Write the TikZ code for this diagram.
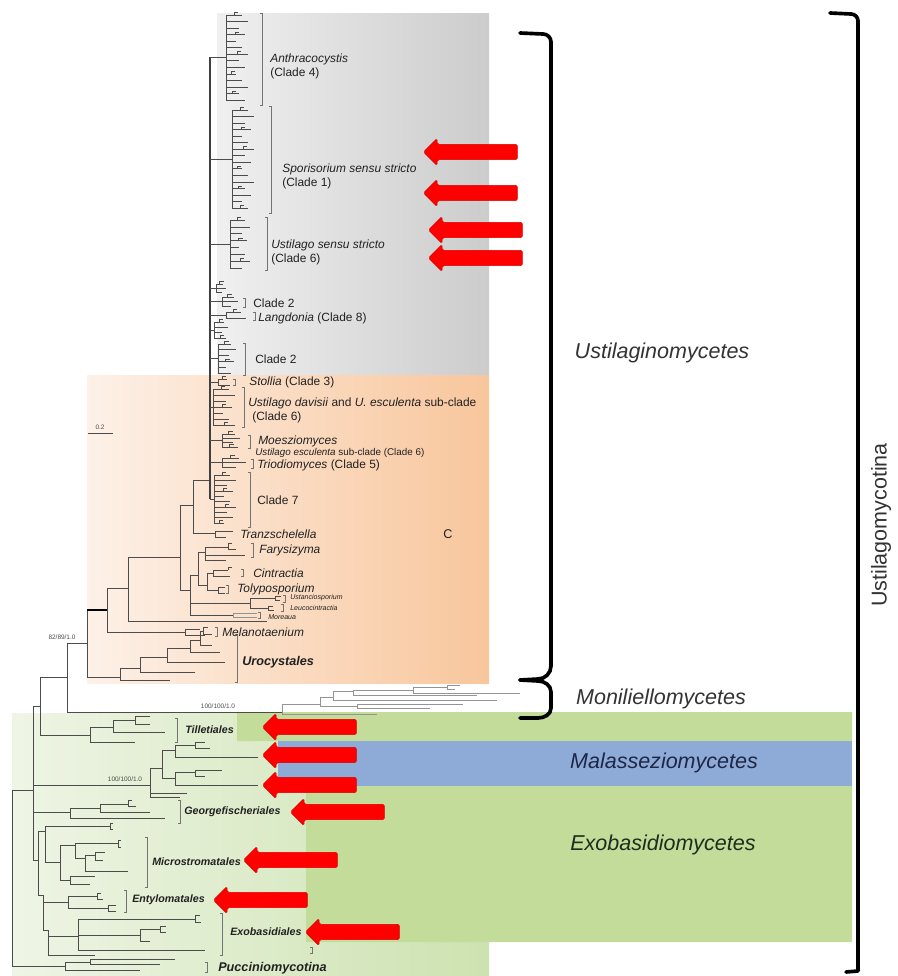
\documentclass[tikz,border=0pt]{standalone}
\usepackage{fontspec}
\setmainfont{Liberation Sans}
\usetikzlibrary{shapes.arrows}
\definecolor{treegrey}{gray}{0.3}
\definecolor{leafgrey}{gray}{0.58}
\definecolor{ustL}{gray}{0.94}
\definecolor{ustR}{gray}{0.80}
\definecolor{uroL}{HTML}{FDF1E8}
\definecolor{uroR}{HTML}{F8C69C}
\definecolor{exoL}{HTML}{EEF5E5}
\definecolor{exoR}{HTML}{CDE2B0}
\definecolor{exogreen}{HTML}{C3DC9A}
\definecolor{malblue}{HTML}{8EAAD7}
\definecolor{ink}{gray}{0.13}
\tikzset{
  br/.style={draw=treegrey,line width=.45pt},
  brl/.style={draw=leafgrey,line width=.45pt},
  backbone/.style={draw=black!75,line width=1pt},
  lbrk/.style={draw=black!55,line width=.5pt},
  bigbr/.style={draw=black,line width=2.6pt,line cap=round,line join=round},
  redarr/.style={single arrow,fill=red,draw=red!85!black,line width=.4pt,
                 shape border rotate=180,minimum height=23.5mm,rounded corners=1.2pt,
                 inner xsep=0pt,inner ysep=1.85mm,
                 single arrow head extend=1.5mm,single arrow tip angle=90,anchor=tip},
  lab/.style={font=\fontsize{8.5}{10}\selectfont,text=ink,anchor=west,inner sep=0pt},
  sublab/.style={lab,font=\fontsize{7}{8}\selectfont},
  tinylab/.style={lab,font=\fontsize{5}{6}\selectfont\itshape},
  ordlab/.style={lab,font=\fontsize{7.6}{9}\selectfont\bfseries\itshape},
  bigord/.style={lab,font=\fontsize{9}{10}\selectfont\bfseries\itshape},
  classlab/.style={font=\fontsize{15.3}{17}\selectfont\itshape,inner sep=0pt},
  support/.style={font=\fontsize{4.6}{5}\selectfont,text=black!70,inner sep=0pt},
}
% comb of leaves hanging off the backbone
\newcommand{\clade}[6]{%
  \pgfmathsetmacro\cmid{(#3+#4)/2}
  \draw[br] (#1,\cmid) -- (#2,\cmid) (#2,#3) -- (#2,#4);
  \foreach \k in {1,...,#5}{
    \pgfmathsetmacro\lfy{#3+(\k-1)*(#4-#3)/(#5-1)}
    \pgfmathsetmacro\lfl{#6*(0.45+0.55*mod(\k*7,5)/4)}
    \pgfmathtruncatemacro\tw{mod(\k,3)}
    \draw[br] (#2,\lfy) -- ++(\lfl,0);
    \ifnum\tw=1 \draw[br] (#2+0.5*\lfl,\lfy) -- ++(0,-2.5) -- ++(4,0); \fi
  }
}
\newcommand{\cladebar}[3]{\draw[lbrk] (#1-2,#2) -- (#1,#2) -- (#1,#3) -- (#1-2,#3);}

\begin{document}
\begin{tikzpicture}[x=0.25mm,y=-0.25mm]
\useasboundingbox (0,0) rectangle (898,976);

% shaded groups
\shade[left color=ustL,right color=ustR] (217,13) rectangle (489,375);
\shade[left color=uroL,right color=uroR] (87,375) rectangle (489,683);
\shade[left color=exoL,right color=exoR] (12,713) rectangle (489,976);
\fill[exogreen] (237,712) -- (852,712) -- (852,942) -- (306,942) -- (306,786)
  -- (278,786) -- (278,741) -- (237,741) -- cycle;
\fill[malblue] (278,741) rectangle (852,786);

% tree
\foreach \px/\py/\cx/\cy in {
  12/880/33/790, 12/880/65/966, 65/966/90/962, 65/966/140/970, 90/962/175/959, 90/962/160/964,
  33/790/40/706, 33/790/150/785, 33/790/70/812, 33/790/38/860,
  40/706/67/677, 40/706/90/735,
  90/735/113/727, 90/735/135/742, 113/727/135/720, 113/727/165/732, 135/720/150/716, 135/720/150/724,
  150/785/162/768, 150/785/187/793, 150/785/180/797, 162/768/175/750, 162/768/175/778,
  175/750/195/745, 175/750/258/757, 195/745/205/742, 195/745/210/748,
  175/778/195/772, 175/778/258/785, 195/772/222/770, 195/772/205/776,
  70/812/100/808, 70/812/165/818, 100/808/128/804, 100/808/150/812, 128/804/132/800, 128/804/136/806,
  38/860/45/831, 38/860/43/895, 45/831/110/826, 45/831/60/862, 110/826/113/823, 110/826/113/829,
  60/862/75/845, 60/862/70/880, 75/845/118/843, 75/845/85/858, 118/843/121/840, 118/843/121/847,
  85/858/95/855, 85/858/128/871, 95/855/105/852, 95/855/103/860, 70/880/95/876, 70/880/90/884,
  43/895/68/902, 43/895/48/930, 68/902/97/896, 68/902/108/908, 97/896/101/893, 97/896/103/899,
  108/908/116/905, 108/908/116/911,
  48/930/78/936, 48/930/95/955, 78/936/195/919, 78/936/140/935, 78/936/205/950,
  195/919/200/915, 195/919/201/922, 140/935/160/929, 140/935/150/941, 160/929/166/926, 160/929/166/932,
  67/677/87/643, 67/677/282/712,
  87/643/107/610, 87/643/120/677, 120/677/140/668, 120/677/170/680, 140/668/167/657, 140/668/195/672,
  167/657/190/648, 167/657/225/662, 190/648/200/640, 190/648/220/652, 200/640/203/631, 200/640/212/645,
  203/631/208/627, 203/631/212/634,
  107/610/128/588, 107/610/185/632, 185/632/200/629, 185/632/205/635,
  128/588/180/557, 128/588/267/621, 180/557/193/505, 180/557/190/590,
  193/505/210/480, 193/505/215/533, 215/533/233/531, 215/533/226/537,
  190/590/198/575, 190/590/233/615, 190/590/250/603, 198/575/205/552, 198/575/207/585,
  205/552/228/547, 205/552/245/555, 205/552/226/560, 228/547/232/543, 228/547/236/549,
  207/585/213/573, 207/585/218/590, 213/573/228/570, 213/573/230/576, 228/570/232/567,
  218/590/225/587, 218/590/225/593, 250/603/275/598, 250/603/268/608, 275/598/281/596,
  275/598/280/600, 268/608/273/606, 268/608/274/610}
  \draw[br] (\px,\py) |- (\cx,\cy);
\foreach \px/\py/\cx/\cy in {
  282/712/320/704, 282/712/377/714, 320/704/333/697, 320/704/357/706, 333/697/353/691,
  333/697/497/700, 353/691/413/690, 353/691/477/695, 413/690/447/687, 413/690/520/693,
  447/687/460/685, 447/687/455/689, 357/706/463/704, 357/706/430/708,
  233/615/257/613, 233/615/257/617}
  \draw[brl] (\px,\py) |- (\cx,\cy);
\draw[draw=black,line width=1.6pt] (87,610) -- (107,610);
\draw[backbone] (210,57) -- (210,499);

\clade{210}{226}{15}{100}{14}{22}
\clade{210}{232}{110}{208}{16}{22}
\clade{210}{230}{220}{268}{8}{20}
\clade{210}{216}{284}{292}{3}{10}
\clade{210}{222}{297}{306}{3}{16}
\clade{210}{226}{312}{318}{2}{20}
\clade{210}{214}{322}{338}{4}{14}
\clade{210}{218}{344}{373}{6}{18}
\clade{210}{218}{379}{385}{2}{12}
\clade{210}{213}{389}{425}{7}{22}
\clade{210}{222}{434}{447}{4}{18}
\clade{210}{222}{458}{467}{3}{24}
\clade{210}{214}{475}{523}{10}{22}

% clade bars
\cladebar{262}{13}{105}
\cladebar{271}{106}{213}
\cladebar{267}{217}{270}
\cladebar{245}{298}{307}
\cladebar{255}{312}{320}
\cladebar{245}{343}{375}
\cladebar{235}{379}{385}
\cladebar{244}{387}{427}
\cladebar{250}{435}{448}
\cladebar{253}{459}{468}
\cladebar{250}{472}{527}
\cladebar{253}{543}{557}
\cladebar{243}{569}{576}
\cladebar{228}{585}{593}
\cladebar{285}{595}{602}
\cladebar{283}{604}{611}
\cladebar{260}{612}{618}
\cladebar{217}{627}{636}
\cladebar{237}{634}{682}
\cladebar{177}{718}{742}
\cladebar{180}{800}{823}
\cladebar{147}{837}{887}
\cladebar{126}{890}{912}
\cladebar{222}{913}{955}
\cladebar{312}{947}{953}
\cladebar{207}{962}{972}

% labels
\node[lab,align=left] (anthra) at (270,66) {\textit{Anthracocystis}\\(Clade 4)};
\node[lab,align=left] (spori) at (282,176) {\textit{Sporisorium sensu stricto}\\(Clade 1)};
\node[lab,align=left] (ustss) at (271,252) {\textit{Ustilago sensu stricto}\\(Clade 6)};
\node[lab] (cl2a) at (253,303) {Clade 2};
\node[lab] (langd) at (258,318) {\textit{Langdonia} (Clade 8)};
\node[lab] (cl2b) at (255,359) {Clade 2};
\node[lab] (stoll) at (249,382) {\textit{Stollia} (Clade 3)};
\node[lab,align=left] (davis) at (248,410)
  {\textit{Ustilago davisii} and \textit{U. esculenta} sub-clade\\\hspace*{1mm}(Clade 6)};
\node[lab] (moesz) at (258,441) {\textit{Moesziomyces}};
\node[sublab] (uesc) at (255,453) {\textit{Ustilago esculenta} sub-clade (Clade 6)};
\node[lab] (triod) at (257,465) {\textit{Triodiomyces} (Clade 5)};
\node[lab] (cl7) at (257,500) {Clade 7};
\node[lab] (tranz) at (240,534) {\textit{Tranzschelella}};
\node[lab] (farys) at (259,550) {\textit{Farysizyma}};
\node[lab] (cintr) at (253,573) {\textit{Cintractia}};
\node[lab] (tolyp) at (237,589) {\textit{Tolyposporium}};
\node[tinylab] (ustan) at (290,598) {Ustanciosporium};
\node[tinylab] (leuco) at (290,608) {Leucocintractia};
\node[tinylab] (morea) at (268,617) {Moreaua};
\node[lab] (melan) at (222,632) {\textit{Melanotaenium}};
\node[bigord] (uroc) at (242,662) {Urocystales};
\node[ordlab] (tille) at (185,730) {Tilletiales};
\node[ordlab] (georg) at (184,812) {Georgefischeriales};
\node[ordlab] (micro) at (152,862) {Microstromatales};
\node[ordlab] (entyl) at (132,900) {Entylomatales};
\node[ordlab] (exoba) at (230,932) {Exobasidiales};
\node[bigord] (pucc) at (218,968) {Pucciniomycotina};
\node[lab,anchor=center,font=\fontsize{9}{10}\selectfont] (cmark) at (448,534) {C};

\node[support] (bs1) at (62,637) {82/89/1.0};
\node[support] (bs2) at (218,706) {100/100/1.0};
\node[support] (bs3) at (125,779) {100/100/1.0};
\draw[black!70,line width=.5pt] (88,433) coordinate (sc1) -- (113,433) coordinate (sc2);
\node[support] (scale) at (100,427) {0.2};

% red arrows
\foreach \tx/\ty [count=\i] in {423/152,423/193,428/230,428/258,262/727,262/755,262/785,
                                290/812,243/860,213/900,305/932}
  \node[redarr] (arr\i) at (\tx,\ty) {};

% brackets and class names
\draw[bigbr] (520,33) -- (543,34) to[out=0,in=90] (551,42) -- (551,666)
  to[out=-90,in=0] (538,679) -- (520,680);
\draw[bigbr] (520,680) -- (538,681) to[out=0,in=90] (551,692) -- (551,708)
  to[out=-90,in=0] (538,718) -- (520,718);
\draw[bigbr] (830,13) -- (851,14) to[out=0,in=90] (858,21) -- (858,971) -- (846,972);

\node[classlab,text=black!80] (ustcl) at (662,353) {Ustilaginomycetes};
\node[classlab,text=black!80] (moncl) at (661,699) {Moniliellomycetes};
\node[classlab,text={rgb,255:red,30;green,40;blue,70}] (malcl) at (664,763) {Malasseziomycetes};
\node[classlab,text={rgb,255:red,30;green,45;blue,30}] (exocl) at (663,845) {Exobasidiomycetes};
\node[font=\fontsize{15.3}{17}\selectfont,text=black!80,rotate=90,inner sep=0pt] (subph)
  at (881,525) {Ustilagomycotina};
\end{tikzpicture}
\end{document}
